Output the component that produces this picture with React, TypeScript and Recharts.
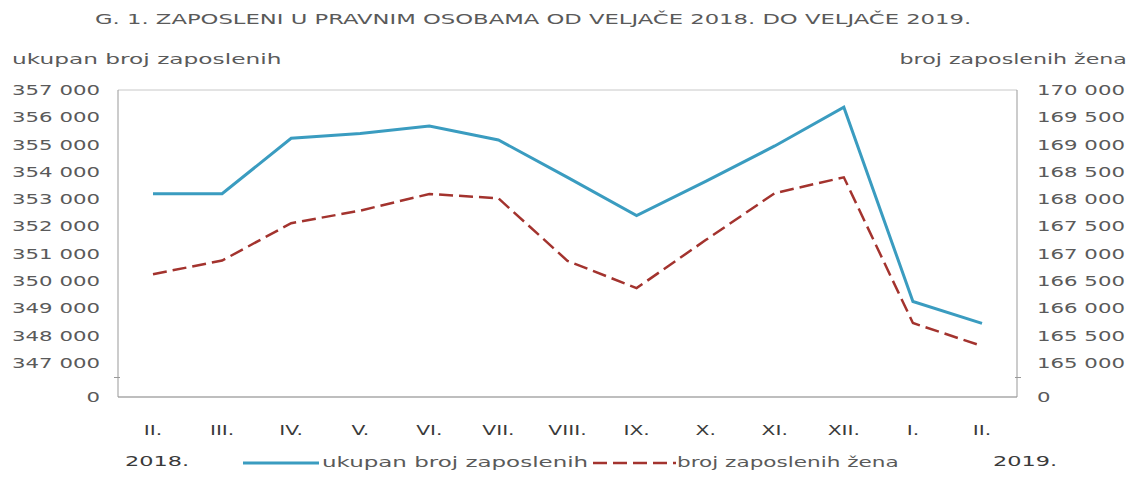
import { LineChart, Line, XAxis, YAxis, CartesianGrid } from 'recharts';

// months Feb 2018 - Feb 2019
const months = ['II.', 'III.', 'IV.', 'V.', 'VI.', 'VII.', 'VIII.', 'IX.', 'X.', 'XI.', 'XII.', 'I.', 'II.'];
const ukupno = [353200, 353200, 355230, 355410, 355680, 355170, 353800, 352400, 353650, 354950, 356370, 349250, 348450];
const zene = [166625, 166875, 167560, 167790, 168095, 168015, 166870, 166370, 167250, 168110, 168400, 165730, 165310];

const leftTicks = [0, 347000, 348000, 349000, 350000, 351000, 352000, 353000, 354000, 355000, 356000, 357000];
const rightTicks = [0, 165000, 165500, 166000, 166500, 167000, 167500, 168000, 168500, 169000, 169500, 170000];

// broken axis: the "0" tick sits a bit more than one grid step below the first real tick
const LEFT_ZERO = 345750;
const RIGHT_ZERO = 164375;

const data = months.map((m, i) => ({ month: m, ukupno: ukupno[i], zene: zene[i] }));

const fmt = (v: number) => String(v).replace(/\B(?=(\d{3})+(?!\d))/g, ' ');

const BLUE = '#3a9cc0';
const RED = '#a3332e';
const TEXT = '#5a5a5a';
const FONT = '"DejaVu Sans", Verdana, sans-serif';

// the source image is stretched sideways, so text is drawn wide
function Wide({ left, right, top, sx, size = 14, color = TEXT, children }: any) {
  return (
    <div
      style={{
        position: 'absolute', left, right, top, fontSize: size, color, whiteSpace: 'nowrap',
        transform: `scaleX(${sx})`, transformOrigin: right !== undefined ? 'right center' : 'left center',
      }}
    >
      {children}
    </div>
  );
}

function WideTick(props: any) {
  const { x, y, payload, textAnchor, sx, fill, dy, label } = props;
  return (
    <text transform={`translate(${x},${y}) scale(${sx},1)`} textAnchor={textAnchor} dy={dy} fill={fill} fontSize={14}>
      {label(payload.value)}
    </text>
  );
}

export default function App() {
  const leftAxisTicks = leftTicks.map((t) => (t === 0 ? LEFT_ZERO : t));
  const rightAxisTicks = rightTicks.map((t) => (t === 0 ? RIGHT_ZERO : t));

  return (
    <div style={{ position: 'absolute', left: 0, top: 0, width: 1130, height: 477, background: '#fff', fontFamily: FONT }}>
      <Wide left={95} top={11} sx={1.62}>G. 1. ZAPOSLENI U PRAVNIM OSOBAMA OD VELJAČE 2018. DO VELJAČE 2019.</Wide>
      <Wide left={12} top={51} sx={1.66}>ukupan broj zaposlenih</Wide>
      <Wide right={3} top={51} sx={1.58}>broj zaposlenih žena</Wide>

      <LineChart width={1130} height={477} data={data} margin={{ top: 90, right: 0, bottom: 0, left: 0 }}>
        <CartesianGrid vertical={false} stroke="#c8c8c8" />
        <XAxis
          dataKey="month"
          height={80}
          padding={{ left: 35, right: 35 }}
          axisLine={{ stroke: '#999' }}
          tickLine={false}
          tickMargin={22}
          interval={0}
          tick={(p: any) => <WideTick {...p} sx={1.45} fill="#3a3a3a" dy="0.71em" label={(v: string) => v} />}
        />
        <YAxis
          yAxisId="left"
          width={118}
          domain={[LEFT_ZERO, 357000]}
          ticks={leftAxisTicks}
          interval={0}
          axisLine={{ stroke: '#999' }}
          tickLine={false}
          tickMargin={12}
          tick={(p: any) => (
            <WideTick {...p} sx={1.52} fill={TEXT} dy="0.355em" label={(v: number) => (v === LEFT_ZERO ? '0' : fmt(v))} />
          )}
        />
        <YAxis
          yAxisId="right"
          orientation="right"
          width={113}
          domain={[RIGHT_ZERO, 170000]}
          ticks={rightAxisTicks}
          interval={0}
          axisLine={{ stroke: '#999' }}
          tickLine={false}
          tickMargin={14}
          tick={(p: any) => (
            <WideTick {...p} sx={1.52} fill={TEXT} dy="0.355em" label={(v: number) => (v === RIGHT_ZERO ? '0' : fmt(v))} />
          )}
        />
        <Line yAxisId="left" dataKey="ukupno" stroke={BLUE} strokeWidth={3} dot={false} isAnimationActive={false} />
        <Line yAxisId="right" dataKey="zene" stroke={RED} strokeWidth={2.5} strokeDasharray="14 6" dot={false} isAnimationActive={false} />
      </LineChart>

      {/* axis break marks */}
      <div style={{ position: 'absolute', left: 114, top: 377, width: 6, height: 1, background: '#999' }} />
      <div style={{ position: 'absolute', left: 1015, top: 377, width: 6, height: 1, background: '#999' }} />

      <Wide left={125} top={453} sx={1.6} color="#3a3a3a">2018.</Wide>
      <Wide left={993} top={453} sx={1.6} color="#3a3a3a">2019.</Wide>

      {/* legend */}
      <svg style={{ position: 'absolute', left: 243, top: 458 }} width={76} height={10}>
        <line x1={0} y1={5} x2={76} y2={5} stroke={BLUE} strokeWidth={3} />
      </svg>
      <Wide left={322} top={454} sx={1.64}>ukupan broj zaposlenih</Wide>
      <svg style={{ position: 'absolute', left: 593, top: 458 }} width={83} height={10}>
        <line x1={0} y1={5} x2={83} y2={5} stroke={RED} strokeWidth={2.5} strokeDasharray="14 6" />
      </svg>
      <Wide left={677} top={454} sx={1.54}>broj zaposlenih žena</Wide>
    </div>
  );
}
